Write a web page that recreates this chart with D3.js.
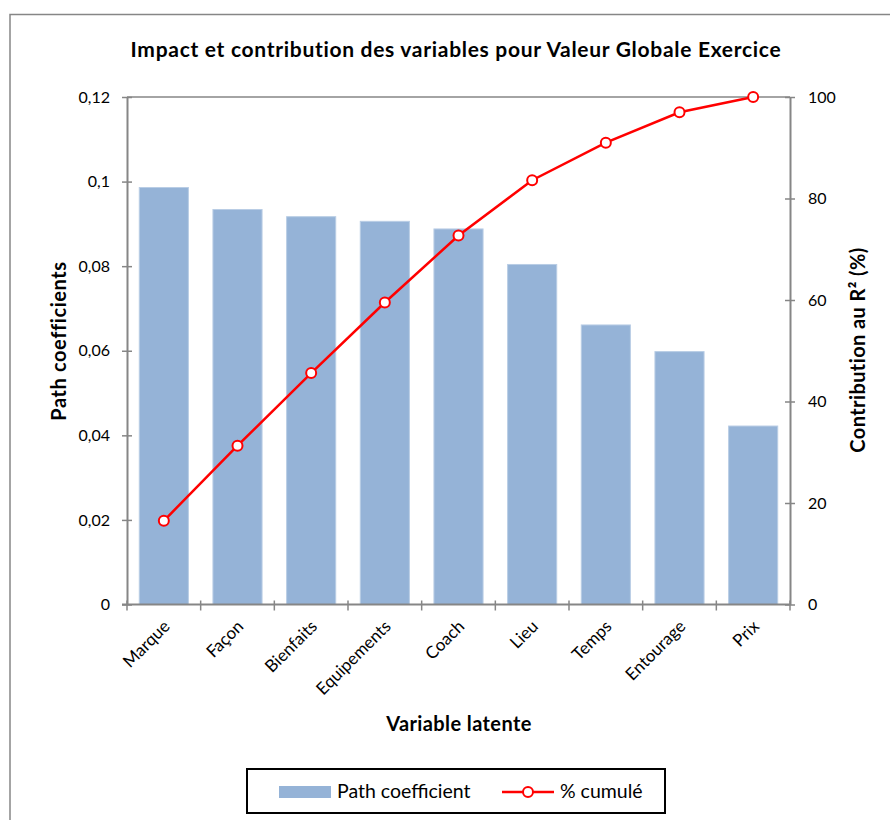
<!DOCTYPE html>
<html>
<head>
<meta charset="utf-8">
<script src="https://cdn.jsdelivr.net/npm/d3@7"></script>
<style>
  html, body { margin: 0; padding: 0; background: #fff; }
  svg { display: block; font-family: Lato, "Open Sans", sans-serif; }
</style>
</head>
<body>
<svg id="chart" width="890" height="820"></svg>
<script>
// Latent variables and their path coefficients, with cumulative R² contribution
const categories = ["Marque", "Façon", "Bienfaits", "Equipements", "Coach", "Lieu", "Temps", "Entourage", "Prix"];
const pathCoefficients = [0.0986, 0.0934, 0.0917, 0.0906, 0.0888, 0.0804, 0.0661, 0.0598, 0.0422];
const cumulativePct = [16.5, 31.3, 45.6, 59.5, 72.7, 83.6, 91.0, 97.0, 100];
const leftTicks = [0, 0.02, 0.04, 0.06, 0.08, 0.1, 0.12];
const rightTicks = [0, 20, 40, 60, 80, 100];

const svg = d3.select("#chart");
const axisColor = "#868686";
const barColor = "#95B3D7";
const lineColor = "#FF0000";

const plot = { left: 127, right: 790, top: 97, bottom: 604.5 };

// Outer chart frame
svg.append("rect")
  .attr("x", 10).attr("y", 14.5).attr("width", 900).attr("height", 830)
  .attr("fill", "none").attr("stroke", axisColor).attr("stroke-width", 1.5);

const x = d3.scaleBand().domain(categories).range([plot.left, plot.right]).paddingInner(1/3).paddingOuter(1/6);
const xBand = d3.scaleBand().domain(categories).range([plot.left, plot.right]);
const yLeft = d3.scaleLinear().domain([0, 0.12]).range([plot.bottom, plot.top]);
const yRight = d3.scaleLinear().domain([0, 100]).range([plot.bottom, plot.top]);

// Top border of plot area
svg.append("line")
  .attr("x1", plot.left).attr("x2", plot.right)
  .attr("y1", plot.top).attr("y2", plot.top)
  .attr("stroke", axisColor).attr("stroke-width", 1.5);

// Bars
svg.append("g").selectAll("rect")
  .data(categories)
  .join("rect")
  .attr("x", d => x(d))
  .attr("width", x.bandwidth())
  .attr("y", (d, i) => yLeft(pathCoefficients[i]))
  .attr("height", (d, i) => plot.bottom - yLeft(pathCoefficients[i]))
  .attr("fill", barColor)
  .attr("stroke", "#B9CDE5").attr("stroke-width", 1);

const fmt = d => d === 0 ? "0" : String(d).replace(".", ",");

// Left axis
const gLeft = svg.append("g").attr("transform", `translate(${plot.left},0)`)
  .call(d3.axisLeft(yLeft).tickValues(leftTicks).tickFormat(fmt).tickSizeInner(5).tickSizeOuter(0).tickPadding(12));
gLeft.selectAll(".tick line").attr("x2", -5).attr("x1", 5);
// Right axis
const gRight = svg.append("g").attr("transform", `translate(${plot.right},0)`)
  .call(d3.axisRight(yRight).tickValues(rightTicks).tickSizeInner(5).tickSizeOuter(0).tickPadding(13));
gRight.selectAll(".tick line").attr("x1", -5).attr("x2", 5);
// Bottom axis (ticks at category boundaries)
const boundaries = categories.map(c => xBand(c)).concat([plot.right]);
const gBottom = svg.append("g").attr("transform", `translate(0,${plot.bottom})`);
gBottom.append("line")
  .attr("x1", plot.left - 5).attr("x2", plot.right)
  .attr("stroke", axisColor).attr("stroke-width", 2);
gBottom.selectAll(".btick").data(boundaries).join("line")
  .attr("x1", d => d).attr("x2", d => d).attr("y1", -4).attr("y2", 6)
  .attr("stroke", axisColor).attr("stroke-width", 1.5);

[gLeft, gRight].forEach(g => {
  g.select(".domain").attr("stroke", axisColor).attr("stroke-width", 2);
  g.selectAll(".tick line").attr("stroke", axisColor).attr("stroke-width", 1.5);
  g.selectAll(".tick text").attr("font-size", 16).attr("fill", "#000").style("font-family", "Lato, sans-serif");
});

// Category labels, rotated
svg.append("g").selectAll("text")
  .data(categories)
  .join("text")
  .attr("transform", d => `translate(${xBand(d) + xBand.bandwidth() / 2 + 7},${plot.bottom + 23}) rotate(-45)`)
  .attr("text-anchor", "end")
  .attr("font-size", 17)
  .text(d => d);

// Cumulative line
const line = d3.line()
  .x((d, i) => xBand(categories[i]) + xBand.bandwidth() / 2)
  .y(d => yRight(d));
svg.append("path")
  .datum(cumulativePct)
  .attr("d", line)
  .attr("fill", "none")
  .attr("stroke", lineColor)
  .attr("stroke-width", 2.5);
svg.append("g").selectAll("circle")
  .data(cumulativePct)
  .join("circle")
  .attr("cx", (d, i) => xBand(categories[i]) + xBand.bandwidth() / 2)
  .attr("cy", d => yRight(d))
  .attr("r", 5)
  .attr("fill", "#fff")
  .attr("stroke", lineColor)
  .attr("stroke-width", 2);

// Titles
svg.append("text")
  .attr("x", 456).attr("y", 57)
  .attr("text-anchor", "middle")
  .attr("font-size", 21).attr("font-weight", "bold")
  .attr("letter-spacing", 0.7)
  .text("Impact et contribution des variables pour Valeur Globale Exercice");
svg.append("text")
  .attr("x", 459).attr("y", 731)
  .attr("text-anchor", "middle")
  .attr("font-size", 20).attr("font-weight", "bold")
  .attr("letter-spacing", 0.4)
  .text("Variable latente");
svg.append("text")
  .attr("transform", "translate(66,341) rotate(-90)")
  .attr("text-anchor", "middle")
  .attr("font-size", 20).attr("font-weight", "bold")
  .attr("letter-spacing", 0.6)
  .text("Path coefficients");
svg.append("text")
  .attr("transform", "translate(865,350) rotate(-90)")
  .attr("text-anchor", "middle")
  .attr("font-size", 20).attr("font-weight", "bold")
  .attr("letter-spacing", 0.4)
  .text("Contribution au R² (%)");

// Legend
const legend = svg.append("g");
legend.append("rect")
  .attr("x", 247).attr("y", 769).attr("width", 418).attr("height", 44)
  .attr("fill", "#fff").attr("stroke", "#000").attr("stroke-width", 2);
legend.append("rect")
  .attr("x", 279).attr("y", 786).attr("width", 52).attr("height", 12)
  .attr("fill", barColor);
legend.append("text")
  .attr("x", 337).attr("y", 798).attr("font-size", 19.5)
  .text("Path coefficient");
legend.append("line")
  .attr("x1", 502).attr("x2", 554).attr("y1", 792).attr("y2", 792)
  .attr("stroke", lineColor).attr("stroke-width", 2.5);
legend.append("circle")
  .attr("cx", 528).attr("cy", 792).attr("r", 5)
  .attr("fill", "#fff").attr("stroke", lineColor).attr("stroke-width", 2);
legend.append("text")
  .attr("x", 560).attr("y", 798).attr("font-size", 19.5)
  .text("% cumulé");
</script>
</body>
</html>
